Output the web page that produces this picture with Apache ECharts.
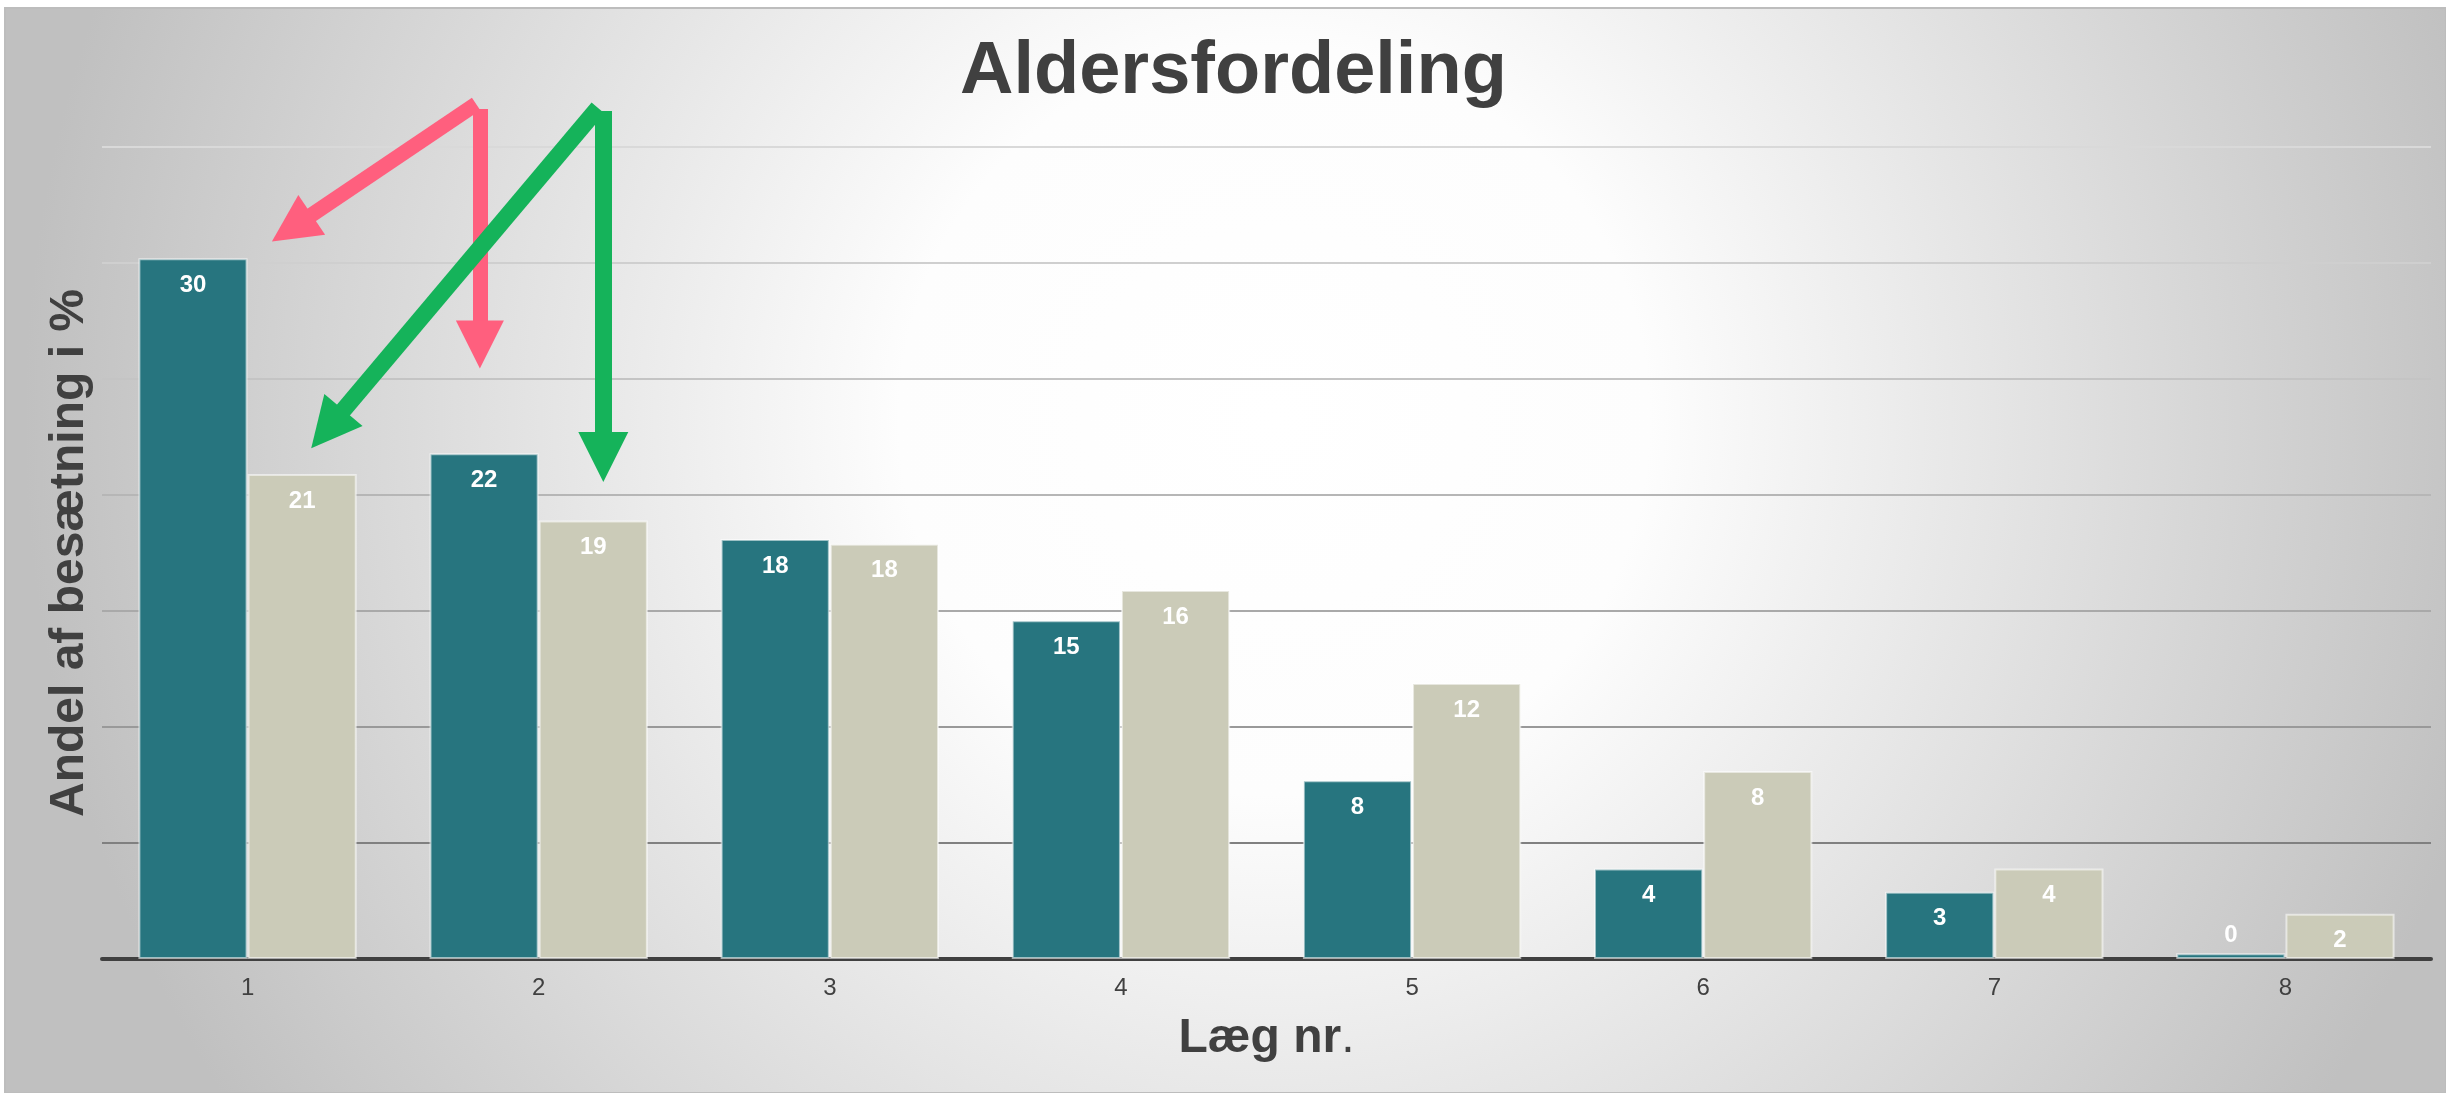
<!DOCTYPE html>
<html>
<head>
<meta charset="utf-8">
<script src="https://cdn.jsdelivr.net/npm/echarts@6/dist/echarts.min.js"></script>
<style>
  html, body { margin: 0; padding: 0; background: #fff; }
  #chart { width: 2446px; height: 1093px; }
</style>
</head>
<body>
<div id="chart"></div>
<script>
// data
var categories = ['1', '2', '3', '4', '5', '6', '7', '8'];
var tealValues = [30.2, 21.8, 18.1, 14.6, 7.7, 3.9, 2.9, 0.25];
var beigeValues = [20.9, 18.9, 17.9, 15.9, 11.9, 8.1, 3.9, 1.95];
var yMin = 0, yMax = 35, yStep = 5;

// annotation arrows: [category position, value] start -> arrowhead
var pinkArrows = [
    [[0.785, 36.85], [0.152, 31.5]],
    [[0.798, 36.64], [0.798, 26.49]]
];
var greenArrows = [
    [[1.204, 36.68], [0.274, 22.84]],
    [[1.222, 36.55], [1.222, 21.64]]
];

var font = '"Liberation Sans", Arial, sans-serif';
var txt = '#404040';

function barData(vals) {
    return vals.map(function (v) {
        // tiny bars get their label above the bar
        if (v < 1) return { value: v, label: { position: 'top', distance: 6 } };
        return v;
    });
}

function arrowData(list) {
    return list.map(function (a) { return { coords: a }; });
}

var myChart = echarts.init(document.getElementById('chart'));
var option = {
    backgroundColor: '#ffffff',
    animation: false,
    graphic: [{
        type: 'rect',
        z: -100,
        silent: true,
        shape: { x: 5, y: 8, width: 2441, height: 1085 },
        style: {
            fill: new echarts.graphic.RadialGradient(0.52, 0.38, 1.15, [
                { offset: 0, color: '#ffffff' },
                { offset: 0.3, color: '#fdfdfd' },
                { offset: 1, color: '#c0c0c0' }
            ]),
            stroke: '#bdbdbd',
            lineWidth: 2
        }
    }],
    title: {
        text: 'Aldersfordeling',
        left: 960,
        top: 36,
        padding: 0,
        textStyle: { fontFamily: font, fontSize: 74, fontWeight: 'bold', color: txt }
    },
    grid: { left: 102, right: 15, top: 147, bottom: 134 },
    xAxis: [{
        type: 'category',
        data: categories,
        name: '{b|Læg nr}{d|.}',
        nameLocation: 'middle',
        nameGap: 56,
        nameTextStyle: {
            rich: {
                b: { fontFamily: font, fontSize: 48, fontWeight: 'bold', color: txt },
                d: { fontFamily: font, fontSize: 48, color: txt }
            }
        },
        axisTick: { show: false },
        axisLine: { lineStyle: { color: '#404040', width: 4 } },
        axisLabel: { margin: 17, fontFamily: font, fontSize: 24, color: txt }
    }, {
        type: 'value',
        show: false,
        min: -0.5,
        max: categories.length - 0.5
    }],
    yAxis: {
        type: 'value',
        min: yMin,
        max: yMax,
        interval: yStep,
        name: 'Andel af besætning i %',
        nameLocation: 'middle',
        nameGap: 8,
        nameTextStyle: { fontFamily: font, fontSize: 48, fontWeight: 'bold', color: txt },
        axisLine: { show: false },
        axisTick: { show: false },
        axisLabel: { show: false },
        splitLine: {
            show: true,
            lineStyle: {
                width: 2,
                color: ['#404040', '#808080', '#999999', '#a9a9a9', '#b6b6b6', '#c4c4c4', '#cfcfcf', '#d9d9d9']
            }
        }
    },
    series: [{
        type: 'bar',
        data: barData(tealValues),
        barGap: '0%',
        barCategoryGap: '25%',
        itemStyle: { color: '#27757f', borderColor: 'rgba(255,255,255,0.55)', borderWidth: 2 },
        label: {
            show: true,
            position: 'insideTop',
            distance: 15,
            formatter: function (p) { return Math.round(p.value); },
            fontFamily: font, fontSize: 24, fontWeight: 'bold', color: '#ffffff'
        }
    }, {
        type: 'bar',
        data: barData(beigeValues),
        itemStyle: { color: '#cbcbb8', borderColor: 'rgba(255,255,255,0.55)', borderWidth: 2 },
        label: {
            show: true,
            position: 'insideTop',
            distance: 15,
            formatter: function (p) { return Math.round(p.value); },
            fontFamily: font, fontSize: 24, fontWeight: 'bold', color: '#ffffff'
        }
    }, {
        type: 'lines',
        coordinateSystem: 'cartesian2d',
        xAxisIndex: 1,
        yAxisIndex: 0,
        clip: false,
        silent: true,
        z: 5,
        symbol: ['none', 'triangle'],
        symbolSize: 48,
        lineStyle: { color: '#ff5f7e', width: 15, opacity: 1, curveness: 0 },
        data: arrowData(pinkArrows)
    }, {
        type: 'lines',
        coordinateSystem: 'cartesian2d',
        xAxisIndex: 1,
        yAxisIndex: 0,
        clip: false,
        silent: true,
        z: 5,
        symbol: ['none', 'triangle'],
        symbolSize: 50,
        lineStyle: { color: '#15b35a', width: 17, opacity: 1, curveness: 0 },
        data: arrowData(greenArrows)
    }]
};
myChart.setOption(option);
</script>
</body>
</html>
